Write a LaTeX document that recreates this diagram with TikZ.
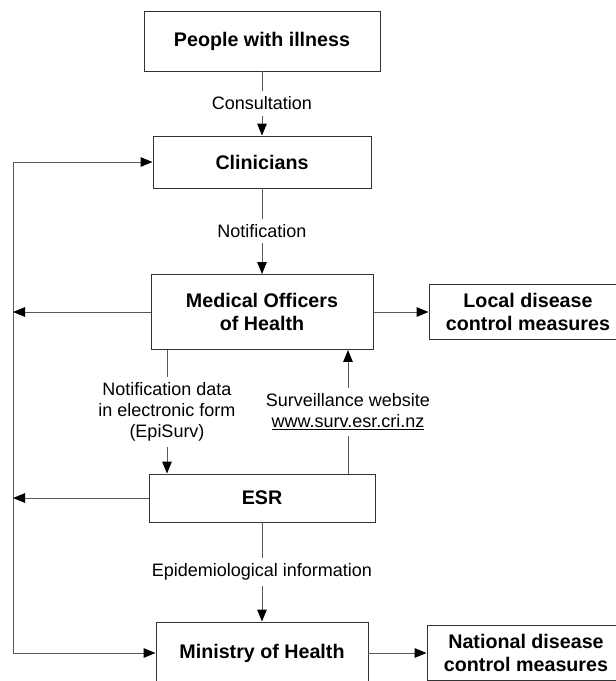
\documentclass[tikz,border=0pt]{standalone}
\usepackage{fontspec}
\setmainfont{Liberation Sans}
\usetikzlibrary{arrows.meta}

\begin{document}
\begin{tikzpicture}[
    box/.style={draw=black!80, line width=0.7pt, fill=white, align=center, inner sep=0pt,
        font=\fontsize{14}{17}\selectfont\bfseries},
    lbl/.style={fill=white, text=black, align=center, inner xsep=2pt, inner ysep=4pt,
        font=\fontsize{12.8}{14.9}\selectfont},
    wire/.style={draw=black!65, line width=0.7pt},
    link/.style={color=black!65, line width=0.7pt,
        -{Triangle[length=0.3cm,width=0.24cm,color=black,fill=black]}}]
    \useasboundingbox (0,0) rectangle (15.375,-17.025);
    %boxes
    \node[box, minimum width=5.9cm, minimum height=1.5cm] (people) at (6.55,-1.025) {People with illness};
    \node[box, minimum width=5.45cm, minimum height=1.3cm] (clin) at (6.55,-4.05) {Clinicians};
    \node[box, minimum width=5.55cm, minimum height=1.875cm] (moh) at (6.55,-7.8) {Medical Officers\\of Health};
    \node[box, minimum width=4.95cm, minimum height=1.375cm] (local) at (13.2,-7.8) {Local disease\\control measures};
    \node[box, minimum width=5.65cm, minimum height=1.2cm] (esr) at (6.55,-12.45) {ESR};
    \node[box, minimum width=5.3cm, minimum height=1.55cm] (ministry) at (6.55,-16.325) {Ministry of Health};
    \node[box, minimum width=4.95cm, minimum height=1.375cm] (national) at (13.15,-16.325) {National disease\\control measures};
    %feedback line
    \coordinate (fbtop) at (0.325,-4.05);
    \coordinate (fbmoh) at (0.325,-7.8);
    \coordinate (fbesr) at (0.325,-12.45);
    \coordinate (fbbot) at (0.325,-16.325);
    \draw[wire] (fbtop) -- (fbbot);
    %edges
    \path[link]
     (people) edge node[lbl]{Consultation} (clin)
     (clin) edge node[lbl]{Notification} (moh)
     ([xshift=-2.375cm]moh.south) edge node[lbl]{Notification data\\in electronic form\\(EpiSurv)} ([xshift=-2.375cm]esr.north)
     ([xshift=2.15cm]esr.north) edge node[lbl]{Surveillance website\\\underline{www.surv.esr.cri.nz}} ([xshift=2.15cm]moh.south)
     (esr) edge node[lbl]{Epidemiological information} (ministry)
     (moh) edge (local)
     (ministry) edge (national)
     (fbtop) edge (clin)
     (fbbot) edge (ministry)
     (moh) edge (fbmoh)
     (esr) edge (fbesr);
\end{tikzpicture}
\end{document}
